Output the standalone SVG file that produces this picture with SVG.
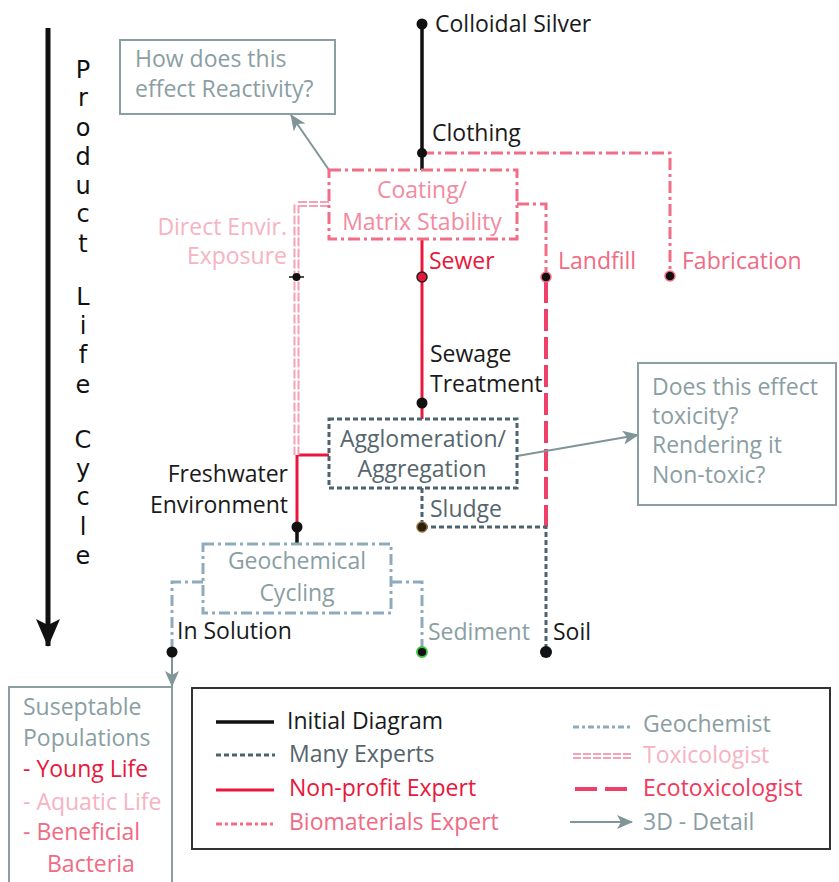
<svg xmlns="http://www.w3.org/2000/svg" width="839" height="882" viewBox="0 0 839 882">
<defs>
<marker id="arr" viewBox="0 0 16 14" markerWidth="16" markerHeight="14" refX="15" refY="7" orient="auto" markerUnits="userSpaceOnUse">
<path d="M0,0 L16,7 L0,14 L4,7 z" fill="#7f9598"/>
</marker>
<marker id="bigarr" viewBox="0 0 24 28" markerWidth="24" markerHeight="28" refX="12" refY="27" orient="0" markerUnits="userSpaceOnUse">
<path d="M0,0 L12,6 L24,0 L12,28 z" fill="#111"/>
</marker>
</defs>
<style>
text{font-family:"Open Sans","Liberation Sans",sans-serif;font-size:23px}
.blk{fill:#1a1a1a}
.red{fill:#e8173c}
.pink{fill:#f06b84}
.cpink{fill:#f48aa0}
.lpink{fill:#f7b3c2}
.dgray{fill:#55666d}
.lgray{fill:#8a9ea3}
.plc{font-family:"DejaVu Sans",sans-serif;font-size:24px;fill:#111;text-anchor:middle}
.mid{text-anchor:middle}
.end{text-anchor:end}
.l-black{stroke:#111;stroke-width:3.5;fill:none}
.l-red{stroke:#e8173c;stroke-width:3;fill:none}
.l-bio{stroke:#f26d85;stroke-width:3;fill:none;stroke-dasharray:12 4 3 4}
.l-many{stroke:#4d6470;stroke-width:3;fill:none;stroke-dasharray:5 3}
.l-geo{stroke:#8fabbb;stroke-width:3;fill:none;stroke-dasharray:11 4 3 4}
.l-eco{stroke:#f0406a;stroke-width:4;fill:none;stroke-dasharray:22 6}
.l-tox{stroke:#f4a3b6;stroke-width:6;fill:none;stroke-dasharray:9 2}
.l-toxw{stroke:#fff;stroke-width:2;fill:none}
.l-3d{stroke:#7f9598;stroke-width:2;fill:none}
.box3d{fill:#fff;stroke:#8a9ea3;stroke-width:2}
.dot{fill:#111}
</style>
<rect width="839" height="882" fill="#fff"/>

<g id="life-cycle-axis">
<line x1="48" y1="28" x2="48" y2="646" stroke="#111" stroke-width="5" marker-end="url(#bigarr)"/>
<text class="plc" x="83" y="78">P</text>
<text class="plc" x="83" y="106">r</text>
<text class="plc" x="83" y="136">o</text>
<text class="plc" x="83" y="165">d</text>
<text class="plc" x="83" y="194">u</text>
<text class="plc" x="83" y="222">c</text>
<text class="plc" x="83" y="252">t</text>
<text class="plc" x="83" y="305">L</text>
<text class="plc" x="83" y="334">i</text>
<text class="plc" x="83" y="363">f</text>
<text class="plc" x="83" y="393">e</text>
<text class="plc" x="83" y="448">C</text>
<text class="plc" x="83" y="477">y</text>
<text class="plc" x="83" y="505">c</text>
<text class="plc" x="83" y="535">l</text>
<text class="plc" x="83" y="564">e</text>
</g>

<g id="connectors">
<path class="l-black" d="M422,22 V170"/>
<path class="l-black" d="M297,527 V544"/>
<path class="l-bio" d="M422,153 H670 V275"/>
<path class="l-bio" d="M517,204 H546 V277"/>
<path class="l-red" d="M422,239 V419"/>
<path class="l-red" d="M329,455 H297 V527"/>
<path class="l-tox" d="M329,204 H296.5 V455"/>
<path class="l-toxw" d="M329,204 H296.5 V455"/>
<path class="l-eco" d="M546,281 V527"/>
<path class="l-many" d="M422,488 V527 H546 V652"/>
<path class="l-geo" d="M203,582 H172 V652"/>
<path class="l-geo" d="M391,582 H422 V652"/>
<path class="l-3d" d="M329,170 L291,115" marker-end="url(#arr)"/>
<path class="l-3d" d="M517,456 L638,435" marker-end="url(#arr)"/>
<path class="l-3d" d="M172,652 V686" marker-end="url(#arr)"/>
</g>

<g id="colloidal-silver">
<circle class="dot" cx="422" cy="24" r="5.5"/>
<text class="blk" x="435" y="32">Colloidal Silver</text>
</g>
<g id="clothing">
<circle class="dot" cx="422" cy="153" r="5"/>
<text class="blk" x="432" y="141">Clothing</text>
</g>
<g id="coating-matrix-stability">
<rect x="329" y="170" width="188" height="69" fill="none" class="l-bio"/>
<text class="cpink mid" x="422" y="198">Coating/</text>
<text class="cpink mid" x="422" y="230">Matrix Stability</text>
</g>
<g id="how-does-reactivity">
<rect class="box3d" x="120" y="40" width="215" height="74"/>
<text class="lgray" x="135" y="67">How does this</text>
<text class="lgray" x="135" y="97">effect Reactivity?</text>
</g>
<g id="direct-envir-exposure">
<circle class="dot" cx="296.5" cy="277" r="4"/>
<line x1="289" y1="277" x2="304" y2="277" stroke="#111" stroke-width="1.5"/>
<text class="lpink end" x="287" y="235">Direct Envir.</text>
<text class="lpink end" x="287" y="264">Exposure</text>
</g>
<g id="sewer">
<circle cx="422" cy="277" r="5" fill="#e8173c" stroke="#222" stroke-width="1.5"/>
<text class="red" x="429" y="269">Sewer</text>
</g>
<g id="landfill">
<circle cx="546" cy="277" r="5" fill="#111" stroke="#f26d85" stroke-width="1.5"/>
<text class="pink" x="558" y="269">Landfill</text>
</g>
<g id="fabrication">
<circle cx="670" cy="276" r="5" fill="#111" stroke="#f26d85" stroke-width="1.5"/>
<text class="pink" x="682" y="269">Fabrication</text>
</g>
<g id="sewage-treatment">
<circle class="dot" cx="422" cy="403" r="5.5"/>
<text class="blk" x="430" y="362">Sewage</text>
<text class="blk" x="430" y="392">Treatment</text>
</g>
<g id="agglomeration-aggregation">
<rect x="329" y="419" width="188" height="69" fill="none" class="l-many"/>
<text class="dgray mid" x="423" y="447">Agglomeration/</text>
<text class="dgray mid" x="422" y="477">Aggregation</text>
</g>
<g id="does-this-effect-toxicity">
<rect class="box3d" x="638" y="363" width="198" height="142"/>
<text class="lgray" x="652" y="395">Does this effect</text>
<text class="lgray" x="652" y="424">toxicity?</text>
<text class="lgray" x="652" y="453">Rendering it</text>
<text class="lgray" x="652" y="483">Non-toxic?</text>
</g>
<g id="freshwater-environment">
<circle class="dot" cx="297" cy="527" r="5.5"/>
<text class="blk end" x="288" y="482">Freshwater</text>
<text class="blk end" x="288" y="513">Environment</text>
</g>
<g id="sludge">
<circle cx="422" cy="527" r="5" fill="#2a2010" stroke="#8a6a30" stroke-width="1.5"/>
<text class="dgray" x="430" y="517">Sludge</text>
</g>
<g id="geochemical-cycling">
<rect x="203" y="544" width="188" height="69" fill="none" class="l-geo"/>
<text class="lgray mid" x="297" y="569">Geochemical</text>
<text class="lgray mid" x="297" y="601">Cycling</text>
</g>
<g id="in-solution">
<circle class="dot" cx="172" cy="652" r="5.5"/>
<text class="blk" x="177" y="639">In Solution</text>
</g>
<g id="sediment">
<circle cx="422" cy="652" r="5" fill="#111" stroke="#3cc43c" stroke-width="1.8"/>
<text class="lgray" x="428" y="640">Sediment</text>
</g>
<g id="soil">
<circle class="dot" cx="546" cy="652" r="6"/>
<text class="blk" x="553" y="640">Soil</text>
</g>
<g id="susceptible-populations">
<rect class="box3d" x="9" y="687" width="163" height="200"/>
<text class="lgray" x="23" y="715">Suseptable</text>
<text class="lgray" x="23" y="746">Populations</text>
<text class="red" x="23" y="777">- Young Life</text>
<text class="lpink" x="23" y="810">- Aquatic Life</text>
<text class="pink" x="23" y="840">- Beneficial</text>
<text class="pink" x="47" y="872">Bacteria</text>
</g>

<g id="legend">
<rect x="192" y="688" width="638" height="161" fill="#fff" stroke="#333" stroke-width="2"/>
<line class="l-black" x1="216" y1="722" x2="274" y2="722"/>
<text class="blk" x="287" y="729">Initial Diagram</text>
<line class="l-many" x1="216" y1="755" x2="275" y2="755"/>
<text class="dgray" x="289" y="762">Many Experts</text>
<line class="l-red" x1="216" y1="790" x2="274" y2="790"/>
<text class="red" x="289" y="796">Non-profit Expert</text>
<line class="l-bio" x1="216" y1="824" x2="274" y2="824" style="stroke-dasharray:6 3 3 3"/>
<text class="pink" x="289" y="830">Biomaterials Expert</text>
<line class="l-geo" x1="573" y1="727" x2="633" y2="727" style="stroke-dasharray:6 3 3 3"/>
<text class="lgray" x="643" y="732">Geochemist</text>
<line class="l-tox" x1="573" y1="756" x2="633" y2="756" style="stroke-dasharray:8 2"/>
<line class="l-toxw" x1="573" y1="756" x2="633" y2="756"/>
<text class="lpink" x="643" y="763">Toxicologist</text>
<line class="l-eco" x1="575" y1="789" x2="629" y2="789" style="stroke-dasharray:22 8"/>
<text class="red" x="643" y="796" style="fill:#ef3a5e">Ecotoxicologist</text>
<line class="l-3d" x1="570" y1="822" x2="632" y2="822" marker-end="url(#arr)"/>
<text class="lgray" x="643" y="830">3D - Detail</text>
</g>
</svg>
